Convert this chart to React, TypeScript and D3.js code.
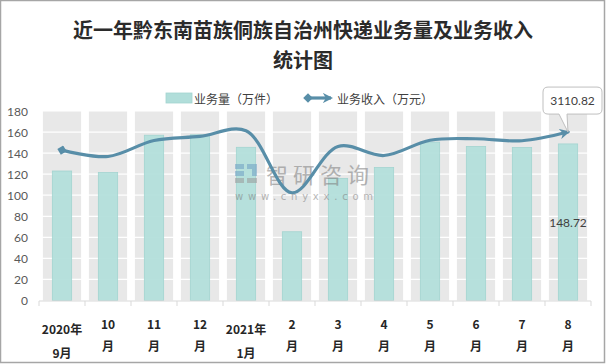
import { useMemo } from 'react';
import * as d3 from 'd3';

const W = 606;
const H = 364;

const labelTop = ['2020年', '10', '11', '12', '2021年', '2', '3', '4', '5', '6', '7', '8'];
const labelBottom = ['9月', '月', '月', '月', '1月', '月', '月', '月', '月', '月', '月', '月'];
const volume = [123, 121.5, 157, 157.4, 145.5, 65.3, 116, 126.3, 150.5, 146.3, 145.3, 148.72]; // 万件
const revenue = [2778, 2660, 2955, 3030, 3135, 1990, 2844, 2678, 2960, 2987, 2950, 3110.82]; // 万元
const yTicks = [0, 20, 40, 60, 80, 100, 120, 140, 160, 180];

const CJK = '"Noto Sans CJK SC", "Noto Sans", sans-serif';
const LINE = '#588ea8';
const BAR = '#b1deda';

export default function App() {
  const idx = labelTop.map((_, i) => i);

  const x = useMemo(() => d3.scaleBand<number>().domain(idx).range([39, 591]).paddingInner(0).paddingOuter(0), []);
  const y = useMemo(() => d3.scaleLinear().domain([0, 180]).range([300.5, 111]), []);
  // hidden secondary axis for revenue
  const y2 = useMemo(() => d3.scaleLinear().domain([0, 3500]).range([300.5, 111]), []);

  const cx = (i: number) => (x(i) as number) + x.bandwidth() / 2;
  const bandW = x.bandwidth() * 0.83;
  const barW = x.bandwidth() * 0.42;

  const linePath = d3.line<number>()
    .x((_, i) => cx(i))
    .y(d => y2(d))
    .curve(d3.curveCatmullRom.alpha(0.5))(revenue) || '';

  const lastI = revenue.length - 1;
  const tipX = cx(lastI);
  const tipY = y2(revenue[lastI]);

  // callout box around the last revenue value
  const bx0 = tipX - 25, bx1 = tipX + 34, by0 = tipY - 45, by1 = tipY - 18, r = 5;
  const callout = `M${bx0 + r},${by0} H${bx1 - r} Q${bx1},${by0} ${bx1},${by0 + r} V${by1 - r} Q${bx1},${by1} ${bx1 - r},${by1} H${tipX - 1} L${tipX},${tipY} L${tipX - 9},${by1} H${bx0 + r} Q${bx0},${by1} ${bx0},${by1 - r} V${by0 + r} Q${bx0},${by0} ${bx0 + r},${by0} Z`;

  return (
    <svg width={W} height={H} style={{ position: 'absolute', left: 0, top: 0, background: '#fff' }}>
      <defs>
        <marker id="arrowEnd" viewBox="0 0 10 10" refX="8" refY="5" markerWidth="3.2" markerHeight="3.2" orient="auto" markerUnits="strokeWidth">
          <path d="M0,0 L10,5 L0,10 L3,5 Z" fill={LINE} />
        </marker>
        <marker id="diamondStart" viewBox="0 0 10 10" refX="5" refY="5" markerWidth="3" markerHeight="3" orient="auto" markerUnits="strokeWidth">
          <path d="M0,5 L5,0 L10,5 L5,10 Z" fill={LINE} />
        </marker>
      </defs>

      <rect x={0.5} y={0.5} width={W - 2} height={H - 2} fill="#fff" stroke="#a6a6a6" strokeWidth={1.5} />

      {/* title */}
      <g fontFamily={CJK} fontWeight="bold" fontSize={20} fill="#2b2b2b" textAnchor="middle">
        <text x={W / 2} y={29} dominantBaseline="central">近一年黔东南苗族侗族自治州快递业务量及业务收入</text>
        <text x={W / 2} y={59} dominantBaseline="central">统计图</text>
      </g>

      {/* legend */}
      <g fontFamily={CJK} fontSize={12} fill="#404040">
        <rect x={166} y={93} width={26} height={10} fill={BAR} stroke="#a3d4d0" strokeWidth={0.8} />
        <text x={194} y={98} dominantBaseline="central">业务量（万件）</text>
        <line x1={308} y1={98} x2={331} y2={98} stroke={LINE} strokeWidth={3.2} markerStart="url(#diamondStart)" markerEnd="url(#arrowEnd)" />
        <text x={337} y={98} dominantBaseline="central">业务收入（万元）</text>
      </g>

      {/* gray background bands */}
      {idx.map(i => (
        <rect key={'bg' + i} x={cx(i) - bandW / 2} y={y(180)} width={bandW} height={y(0) - y(180)} fill="#e8e8e8" />
      ))}

      {/* gridlines */}
      {yTicks.slice(1).map(t => (
        <line key={'g' + t} x1={39} x2={591} y1={y(t)} y2={y(t)} stroke="#fff" strokeWidth={1.2} />
      ))}

      {/* y labels */}
      <g fontFamily="Lato, 'Noto Sans', sans-serif" fontSize={12} fill="#595959" textAnchor="end">
        {yTicks.map(t => (
          <text key={'yl' + t} x={28} y={y(t)} dominantBaseline="central">{t}</text>
        ))}
      </g>

      {/* volume bars */}
      {volume.map((v, i) => (
        <rect key={'b' + i} x={cx(i) - barW / 2} y={y(v)} width={barW} height={y(0) - y(v)} fill={BAR} fillOpacity={0.92} stroke="#a3d4d0" strokeWidth={0.8} />
      ))}

      {/* watermark */}
      <g opacity={0.55}>
        <rect x={235} y={164} width={9} height={5} fill="#6f9fc4" />
        <rect x={235} y={171} width={9} height={5} fill="#6f9fc4" />
        <rect x={235} y={178} width={9} height={5} fill="#9a9a9a" />
        <rect x={247} y={164} width={10} height={5} fill="#6f9fc4" />
        <rect x={252} y={169} width={5} height={7} fill="#6f9fc4" />
        <rect x={247} y={178} width={10} height={5} fill="#9a9a9a" />
        <text x={266} y={173} fontFamily={CJK} fontSize={22} letterSpacing={5} fill="#7d7d7d" dominantBaseline="central">智研咨询</text>
        <text x={235} y={196} fontFamily="'DejaVu Sans', sans-serif" fontSize={10} fill="#7d7d7d" textLength={138} lengthAdjust="spacing" dominantBaseline="central">www.chyxx.com</text>
      </g>

      {/* axis */}
      <line x1={39} x2={591} y1={301} y2={301} stroke="#d9d9d9" strokeWidth={1} />
      {d3.range(labelTop.length + 1).map(k => {
        const xx = k < labelTop.length ? (x(k) as number) : 591;
        return <line key={'t' + k} x1={xx} x2={xx} y1={301} y2={306} stroke="#d9d9d9" strokeWidth={1} />;
      })}

      {/* x labels */}
      <g fontFamily={CJK} fontWeight="bold" fontSize={12} fill="#262626" textAnchor="middle">
        {idx.map(i => {
          const isYear = labelTop[i].includes('年');
          return (
            <g key={'xl' + i}>
              <text x={cx(i)} y={isYear ? 328 : 323} dominantBaseline="central">{labelTop[i]}</text>
              <text x={cx(i)} y={isYear ? 352 : 345} dominantBaseline="central">{labelBottom[i]}</text>
            </g>
          );
        })}
      </g>

      {/* revenue line */}
      <path d={linePath} fill="none" stroke={LINE} strokeWidth={3.2} strokeLinecap="round" markerStart="url(#diamondStart)" markerEnd="url(#arrowEnd)" />

      {/* data labels */}
      <text x={cx(lastI)} y={(y(volume[lastI]) + y(0)) / 2} fontFamily="Lato, 'Noto Sans', sans-serif" fontSize={12} fill="#404040" textAnchor="middle" dominantBaseline="central">
        {volume[lastI]}
      </text>
      <path d={callout} fill="#fff" stroke="#bfbfbf" strokeWidth={1} />
      <text x={(bx0 + bx1) / 2} y={(by0 + by1) / 2} fontFamily="Lato, 'Noto Sans', sans-serif" fontSize={12} fill="#404040" textAnchor="middle" dominantBaseline="central">
        {revenue[lastI]}
      </text>
    </svg>
  );
}
